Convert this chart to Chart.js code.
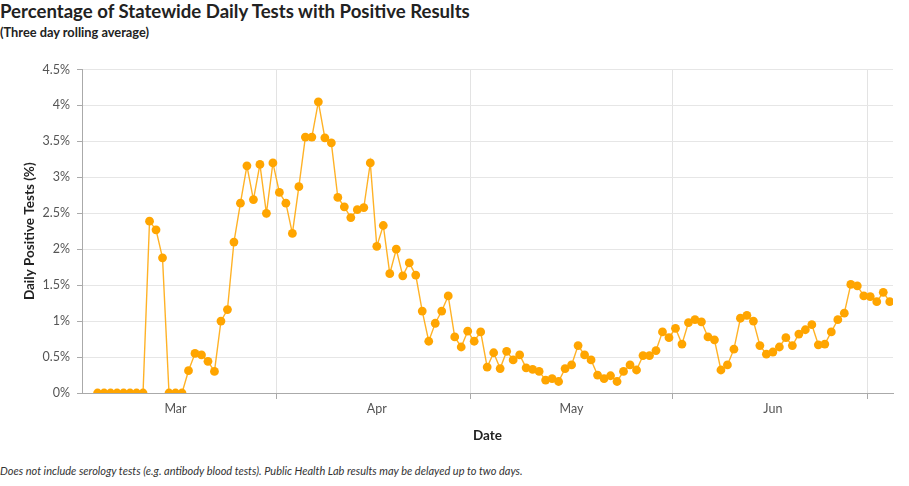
<!DOCTYPE html>
<html>
<head>
<meta charset="utf-8">
<script src="https://cdn.jsdelivr.net/npm/chart.js@4.4.1/dist/chart.umd.min.js"></script>
<style>
  html, body { margin: 0; padding: 0; background: #fff; }
  body { width: 909px; height: 486px; position: relative; overflow: hidden; font-family: Lato, "Noto Sans", sans-serif; color: #222; }
  #title { position: absolute; left: 0; top: 0px; font-size: 18.6px; font-weight: 700; white-space: nowrap; }
  #subtitle { position: absolute; left: 0; top: 24px; font-size: 12.8px; font-weight: 700; color: #222; }
  #note { position: absolute; left: 0; top: 464px; font-size: 11px; font-style: italic; color: #333; white-space: nowrap; }
  #wrap { position: absolute; left: 0; top: 55px; width: 909px; height: 400px; }
</style>
</head>
<body>
<div id="title">Percentage of Statewide Daily Tests with Positive Results</div>
<div id="subtitle">(Three day rolling average)</div>
<div id="wrap"><canvas id="chart"></canvas></div>
<div id="note">Does not include serology tests (e.g. antibody blood tests). Public Health Lab results may be delayed up to two days.</div>
<script>
// daily values, first day = Feb 18
const startDate = '2020-02-18';
const positivePct = [
    0, 0, 0, 0, 0, 0, 0, 0, 2.39, 2.27,
    1.88, 0, 0, 0, 0.31, 0.55, 0.53, 0.44, 0.30, 1.00,
    1.16, 2.10, 2.64, 3.16, 2.69, 3.18, 2.50, 3.20, 2.79, 2.64,
    2.22, 2.87, 3.56, 3.56, 4.05, 3.55, 3.48, 2.72, 2.59, 2.44,
    2.55, 2.58, 3.20, 2.04, 2.33, 1.66, 2.00, 1.63, 1.81, 1.64,
    1.14, 0.72, 0.97, 1.14, 1.35, 0.78, 0.64, 0.86, 0.72, 0.85,
    0.36, 0.56, 0.34, 0.58, 0.46, 0.53, 0.35, 0.33, 0.30, 0.18,
    0.20, 0.16, 0.34, 0.39, 0.66, 0.53, 0.46, 0.25, 0.20, 0.24,
    0.16, 0.30, 0.39, 0.32, 0.52, 0.52, 0.59, 0.85, 0.77, 0.90,
    0.68, 0.98, 1.02, 0.99, 0.78, 0.74, 0.32, 0.39, 0.61, 1.04,
    1.08, 1.00, 0.66, 0.54, 0.57, 0.64, 0.77, 0.66, 0.82, 0.88,
    0.95, 0.67, 0.68, 0.85, 1.02, 1.11, 1.51, 1.49, 1.35, 1.34,
    1.27, 1.40, 1.27
];

// x axis: day number counted from startDate
const monthLabels = ['Mar', 'Apr', 'May', 'Jun'];
const monthStartDays = [12, 43, 73, 104];
const gridDays = [27.5, 57.5, 88.5, 118.5];

const points = positivePct.map((v, i) => ({ x: i, y: v }));

const isGridDay = v => gridDays.some(d => Math.abs(d - v) < 0.01);
const labelFor = v => {
    const i = monthStartDays.findIndex(d => Math.abs(d - v) < 0.01);
    return i >= 0 ? monthLabels[i] : '';
};

const orange = '#ffa500';

new Chart(document.getElementById('chart'), {
    type: 'line',
    data: {
        datasets: [{
            label: 'Daily Positive Tests (%)',
            data: points,
            borderColor: 'rgba(255, 165, 0, 0.85)',
            borderWidth: 1.4,
            backgroundColor: orange,
            pointBackgroundColor: orange,
            pointBorderWidth: 0,
            pointRadius: 4.4,
            tension: 0,
            fill: false
        }]
    },
    options: {
        responsive: true,
        maintainAspectRatio: false,
        animation: false,
        layout: { padding: { top: 13, right: 16, left: 0, bottom: 0 } },
        plugins: {
            legend: { display: false },
            tooltip: { enabled: false }
        },
        scales: {
            x: {
                type: 'linear',
                min: -2.4,
                max: 122.5,
                afterBuildTicks: axis => {
                    axis.ticks = monthStartDays.concat(gridDays)
                        .sort((a, b) => a - b)
                        .map(v => ({ value: v }));
                },
                afterFit: axis => { axis.height = 62; },
                ticks: {
                    autoSkip: false,
                    maxRotation: 0,
                    padding: 2,
                    color: '#555',
                    font: { family: 'Lato', size: 12.5 },
                    callback: v => labelFor(v)
                },
                grid: {
                    color: ctx => isGridDay(ctx.tick.value) ? '#e3e3e3' : 'rgba(0,0,0,0)',
                    tickColor: ctx => isGridDay(ctx.tick.value) ? '#aaa' : 'rgba(0,0,0,0)',
                    tickLength: 6
                },
                border: { color: '#aaa' },
                title: {
                    display: true,
                    text: 'Date',
                    color: '#222',
                    font: { family: 'Lato', size: 13.5, weight: 'bold' },
                    padding: { top: 11, bottom: 11 }
                }
            },
            y: {
                min: 0,
                max: 4.5,
                afterBuildTicks: axis => {
                    const t = [];
                    for (let v = 0; v <= 4.5001; v += 0.5) t.push({ value: Math.round(v * 10) / 10 });
                    axis.ticks = t;
                },
                afterFit: axis => { axis.width = 82; },
                ticks: {
                    padding: 7,
                    color: '#555',
                    font: { family: 'Lato', size: 12.5 },
                    callback: v => v + '%'
                },
                grid: {
                    color: '#e6e6e6',
                    tickColor: '#aaa',
                    tickLength: 5
                },
                border: { color: '#aaa' },
                title: {
                    display: true,
                    text: 'Daily Positive Tests (%)',
                    color: '#222',
                    font: { family: 'Lato', size: 13.5, weight: 'bold' },
                    padding: { top: 22, bottom: 22 }
                }
            }
        }
    }
});
</script>
</body>
</html>
